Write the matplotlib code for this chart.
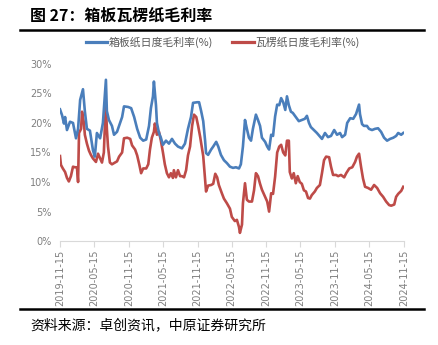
import matplotlib
matplotlib.use("Agg")
import matplotlib.pyplot as plt
import pandas as pd
from matplotlib.lines import Line2D

plt.rcParams['font.family'] = ['Noto Sans CJK SC', 'DejaVu Sans']

title = "图 27：箱板瓦楞纸毛利率"
source = "资料来源：卓创资讯，中原证券研究所"
blue_name = "箱板纸日度毛利率(%)"
red_name = "瓦楞纸日度毛利率(%)"

blue_dates = [
    "2019-11-15", "2019-11-26", "2019-12-06", "2019-12-12", "2019-12-22", "2020-01-07", "2020-01-23",
    "2020-02-08", "2020-02-19", "2020-03-01", "2020-03-16", "2020-03-26", "2020-04-06", "2020-04-22",
    "2020-05-08", "2020-05-18", "2020-05-29", "2020-06-15", "2020-06-30", "2020-07-16", "2020-07-21",
    "2020-08-01", "2020-08-17", "2020-08-28", "2020-09-13", "2020-09-24", "2020-10-10", "2020-10-20",
    "2020-11-11", "2020-11-27", "2020-12-13", "2020-12-29", "2021-01-14", "2021-01-30", "2021-02-15",
    "2021-03-02", "2021-03-12", "2021-03-23", "2021-03-28", "2021-04-08", "2021-04-13", "2021-04-24",
    "2021-05-04", "2021-05-15", "2021-05-31", "2021-06-16", "2021-07-02", "2021-07-18", "2021-08-03",
    "2021-08-24", "2021-09-09", "2021-09-25", "2021-10-11", "2021-10-22", "2021-11-13", "2021-11-23",
    "2021-12-04", "2021-12-15", "2021-12-25", "2021-12-30", "2022-01-10", "2022-01-26", "2022-02-06",
    "2022-02-22", "2022-03-05", "2022-03-19", "2022-04-04", "2022-04-20", "2022-05-06", "2022-05-22",
    "2022-06-07", "2022-06-23", "2022-07-03", "2022-07-14", "2022-07-25", "2022-08-04", "2022-08-15",
    "2022-08-26", "2022-09-05", "2022-09-21", "2022-10-02", "2022-10-13", "2022-10-23", "2022-11-09",
    "2022-11-20", "2022-11-30", "2022-12-11", "2022-12-21", "2023-01-01", "2023-01-12", "2023-01-23",
    "2023-02-02", "2023-02-13", "2023-02-24", "2023-03-05", "2023-03-15", "2023-03-26", "2023-04-05",
    "2023-04-21", "2023-05-07", "2023-05-23", "2023-06-08", "2023-06-19", "2023-06-30", "2023-07-10",
    "2023-07-26", "2023-08-11", "2023-08-27", "2023-09-07", "2023-09-23", "2023-10-09", "2023-10-25",
    "2023-11-11", "2023-11-26", "2023-12-12", "2023-12-23", "2024-01-08", "2024-01-19", "2024-02-04",
    "2024-02-20", "2024-03-06", "2024-03-11", "2024-03-22", "2024-03-27", "2024-04-07", "2024-04-17",
    "2024-05-03", "2024-05-14", "2024-05-30", "2024-06-15", "2024-07-01", "2024-07-17", "2024-08-02",
    "2024-08-18", "2024-09-03", "2024-09-20", "2024-10-05", "2024-10-16", "2024-11-01", "2024-11-12",
]
blue_vals = [
    22.3, 21.3, 19.9, 21.0, 18.8, 20.2, 20.0,
    17.4, 19.0, 23.9, 25.7, 22.0, 19.0, 18.7,
    15.4, 14.3, 18.3, 17.4, 20.0, 27.3, 22.0,
    20.5, 19.5, 18.0, 18.5, 19.5, 21.0, 22.8,
    22.7, 22.5, 21.0, 19.0, 17.5, 17.0, 17.2,
    19.5, 22.5, 24.5, 27.0, 23.0, 20.0, 18.3,
    17.5, 16.3, 17.0, 16.5, 17.3, 16.5, 16.0,
    15.7, 16.5, 19.0, 21.0, 23.4, 23.5, 23.5,
    22.0, 20.3, 17.0, 14.9, 14.6, 15.5, 16.0,
    16.8, 16.0, 14.6, 13.7, 13.2, 12.6, 12.4,
    12.5, 12.3, 13.0, 16.0, 20.5, 19.0, 17.5,
    17.0, 19.0, 21.4, 20.5, 19.5, 17.5, 16.8,
    16.0, 15.5, 18.0, 17.8, 21.1, 23.1, 23.0,
    24.2, 23.5, 22.2, 24.5, 23.0, 21.9, 21.7,
    21.0, 20.3, 20.5, 20.7, 21.2, 20.0, 19.3,
    18.8, 18.3, 17.7, 17.3, 18.3, 17.6, 17.8,
    18.8, 18.0, 18.3, 17.6, 18.0, 20.0, 20.8,
    20.7, 21.5, 22.0, 23.1, 21.5, 19.8, 19.5,
    19.5, 19.0, 18.8, 19.0, 19.1, 18.5, 17.5,
    17.0, 17.3, 17.5, 17.8, 18.3, 18.0, 18.3,
]

red_dates = [
    "2019-11-15", "2019-11-20", "2019-11-30", "2019-12-12", "2019-12-22", "2020-01-01", "2020-01-12",
    "2020-01-23", "2020-02-02", "2020-02-13", "2020-02-19", "2020-02-24", "2020-03-06", "2020-03-11",
    "2020-03-21", "2020-03-26", "2020-04-06", "2020-04-17", "2020-04-27", "2020-05-08", "2020-05-24",
    "2020-06-04", "2020-06-15", "2020-06-25", "2020-07-05", "2020-07-11", "2020-07-16", "2020-07-21",
    "2020-07-27", "2020-08-06", "2020-08-17", "2020-08-28", "2020-09-13", "2020-09-24", "2020-10-10",
    "2020-10-20", "2020-11-06", "2020-11-22", "2020-12-02", "2020-12-18", "2020-12-29", "2021-01-09",
    "2021-01-19", "2021-01-30", "2021-02-15", "2021-02-26", "2021-03-07", "2021-03-17", "2021-03-28",
    "2021-04-02", "2021-04-13", "2021-04-24", "2021-05-04", "2021-05-15", "2021-05-25", "2021-06-05",
    "2021-06-16", "2021-06-26", "2021-07-07", "2021-07-12", "2021-07-23", "2021-08-03", "2021-08-14",
    "2021-08-24", "2021-09-04", "2021-09-15", "2021-09-25", "2021-10-06", "2021-10-17", "2021-10-27",
    "2021-11-08", "2021-11-18", "2021-11-29", "2021-12-15", "2021-12-25", "2021-12-30", "2022-01-10",
    "2022-01-26", "2022-02-06", "2022-02-17", "2022-02-27", "2022-03-08", "2022-03-24", "2022-04-04",
    "2022-04-20", "2022-05-06", "2022-05-16", "2022-06-01", "2022-06-12", "2022-06-23", "2022-06-28",
    "2022-07-09", "2022-07-14", "2022-07-25", "2022-08-04", "2022-08-15", "2022-08-31", "2022-09-11",
    "2022-09-21", "2022-10-02", "2022-10-13", "2022-10-23", "2022-11-09", "2022-11-20", "2022-11-30",
    "2022-12-11", "2022-12-21", "2023-01-01", "2023-01-12", "2023-01-23", "2023-02-02", "2023-02-13",
    "2023-02-24", "2023-03-05", "2023-03-15", "2023-03-20", "2023-03-31", "2023-04-10", "2023-04-21",
    "2023-05-01", "2023-05-12", "2023-05-23", "2023-06-03", "2023-06-14", "2023-06-25", "2023-07-05",
    "2023-07-15", "2023-07-31", "2023-08-11", "2023-08-27", "2023-09-07", "2023-09-18", "2023-09-29",
    "2023-10-15", "2023-10-25", "2023-11-05", "2023-11-21", "2023-12-02", "2023-12-17", "2024-01-03",
    "2024-01-14", "2024-01-30", "2024-02-15", "2024-03-01", "2024-03-11", "2024-03-22", "2024-04-02",
    "2024-04-12", "2024-04-23", "2024-05-09", "2024-05-25", "2024-06-10", "2024-06-26", "2024-07-12",
    "2024-07-28", "2024-08-13", "2024-08-29", "2024-09-09", "2024-09-25", "2024-10-05", "2024-10-16",
    "2024-11-01", "2024-11-12",
]
red_vals = [
    14.4, 12.9, 12.3, 11.7, 10.7, 10.1, 11.0,
    12.6, 12.5, 12.5, 10.0, 18.3, 19.0, 21.9,
    20.0, 18.0, 16.5, 15.3, 14.6, 14.0, 13.4,
    14.8, 14.0, 13.3, 15.0, 20.0, 22.7, 19.0,
    16.0, 13.3, 13.0, 13.2, 13.5, 14.3, 15.0,
    17.4, 17.5, 17.3, 16.2, 15.5, 14.5, 13.0,
    11.5, 12.3, 12.3, 13.0, 15.5, 17.5, 18.5,
    19.9, 18.0, 18.5, 17.0, 15.0, 13.0, 11.5,
    10.8, 11.5, 10.7, 12.0, 10.8, 12.0, 11.0,
    11.0, 10.8, 12.0, 14.5, 16.0, 19.5, 21.4,
    21.0, 19.5, 17.6, 14.4, 10.5, 8.4, 9.4,
    9.5, 9.7, 11.4, 10.8, 9.5, 8.1, 7.2,
    6.4, 5.5, 4.1, 3.4, 3.6, 2.4, 1.4,
    2.8, 6.4, 9.8, 7.0, 6.7, 6.7, 8.6,
    11.5, 11.0, 9.7, 8.7, 7.5, 6.7, 5.0,
    8.1, 8.0, 10.9, 15.0, 16.0, 16.3, 15.0,
    14.5, 17.0, 17.0, 11.7, 10.6, 11.5, 9.8,
    11.0, 10.0, 9.7, 8.6, 8.4, 7.3, 7.2,
    7.8, 8.4, 9.0, 9.5, 11.5, 13.7, 14.3,
    14.2, 12.6, 11.2, 11.2, 11.0, 11.2, 10.8,
    11.5, 12.3, 12.5, 13.4, 14.3, 14.8, 12.5,
    10.6, 9.2, 9.0, 8.7, 9.5, 9.0, 8.1,
    7.5, 6.7, 6.1, 6.0, 6.2, 7.5, 8.0,
    8.5, 9.2,
]

tick_labels = ["2019-11-15", "2020-05-15", "2020-11-15", "2021-05-15", "2021-11-15",
               "2022-05-15", "2022-11-15", "2023-05-15", "2023-11-15", "2024-05-15",
               "2024-11-15"]
y_ticks = [0, 5, 10, 15, 20, 25, 30]

BLUE = "#4A7EBB"
RED = "#BE4B48"
GRAY = "#7F7F7F"

fig = plt.figure(figsize=(4.38, 3.45), dpi=100)
ax = fig.add_axes([0.137, 0.301, 0.785, 0.514])

bd = pd.to_datetime(blue_dates)
rd = pd.to_datetime(red_dates)
td = pd.to_datetime(tick_labels)

ax.plot(bd, blue_vals, color=BLUE, lw=1.9, solid_joinstyle='round', zorder=3)
ax.plot(rd, red_vals, color=RED, lw=1.9, solid_joinstyle='round', zorder=2)

ax.set_xlim(td[0], td[-1])
ax.set_ylim(0, 30)
ax.set_yticks(y_ticks)
ax.set_yticklabels([f"{v}%" for v in y_ticks], color=GRAY, fontsize=7, family=['DejaVu Sans'])
ax.set_xticks(td)
ax.set_xticklabels(tick_labels, rotation=90, color=GRAY, fontsize=7, family=['DejaVu Sans'])

for s in ["top", "right", "left"]:
    ax.spines[s].set_visible(False)
ax.spines["bottom"].set_color("#D9D9D9")
ax.tick_params(axis='y', length=0, pad=6)
ax.tick_params(axis='x', length=4, color="#D9D9D9", pad=2)

fig.text(30 / 438, 1 - 16 / 345, title, fontsize=11.5, fontweight='bold', va='center', ha='left', color='black')
fig.add_artist(Line2D([20 / 438, 424 / 438], [1 - 29.5 / 345] * 2, color='black', lw=1.8))
fig.add_artist(Line2D([20 / 438, 424 / 438], [1 - 309 / 345] * 2, color='black', lw=1.8))
fig.text(30 / 438, 1 - 325 / 345, source, fontsize=10, va='center', ha='left', color='black')

handles = [Line2D([], [], color=BLUE, lw=2.3), Line2D([], [], color=RED, lw=2.3)]
fig.legend(handles, [blue_name, red_name], loc='center', bbox_to_anchor=(0.508, 1 - 42 / 345),
           ncol=2, frameon=False, fontsize=7.8, handlelength=2.0, handletextpad=0.1,
           columnspacing=1.8, labelcolor='#595959')

fig.savefig("out.png", dpi=100)
